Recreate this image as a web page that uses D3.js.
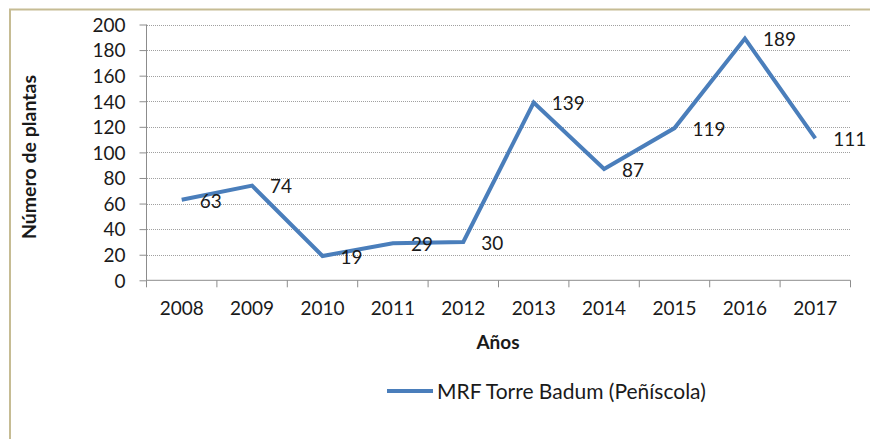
<!DOCTYPE html>
<html>
<head>
<meta charset="utf-8">
<script src="https://cdn.jsdelivr.net/npm/d3@7"></script>
<style>
  body { margin: 0; background: #fff; }
  svg text { font-family: Lato, "Open Sans", sans-serif; fill: #1a1a1a; }
</style>
</head>
<body>
<svg id="chart" width="870" height="439"></svg>
<script>
const years = ['2008', '2009', '2010', '2011', '2012', '2013', '2014', '2015', '2016', '2017'];
const plantas = [63, 74, 19, 29, 30, 139, 87, 119, 189, 111];
const yTicks = [0, 20, 40, 60, 80, 100, 120, 140, 160, 180, 200];
const seriesName = 'MRF Torre Badum (Peñíscola)';
const xTitle = 'Años';
const yTitle = 'Número de plantas';

const LINE_COLOR = '#4a7ebb';
const AXIS_COLOR = '#8c8c8c';

const svg = d3.select('#chart');

// chart border (Excel frame, runs off the right/bottom of the picture)
svg.append('rect')
  .attr('x', 10).attr('y', 9.5)
  .attr('width', 880).attr('height', 460)
  .attr('fill', 'none')
  .attr('stroke', '#c6bc94')
  .attr('stroke-width', 2);

const x = d3.scaleBand().domain(years).range([146.5, 850.5]);
const y = d3.scaleLinear().domain([0, 200]).range([280.3, 24.5]);

// dotted gridlines
svg.append('g')
  .selectAll('line')
  .data(yTicks.filter((t) => t > 0))
  .join('line')
  .attr('x1', 147).attr('x2', 850.5)
  .attr('y1', (d) => Math.round(y(d)) + 0.5)
  .attr('y2', (d) => Math.round(y(d)) + 0.5)
  .attr('stroke', '#a0a0a0')
  .attr('stroke-dasharray', '1,1');

// y axis
const yAxis = svg.append('g')
  .attr('transform', 'translate(146.5,0)')
  .call(d3.axisLeft(y).tickValues(yTicks).tickSize(7).tickPadding(14).tickSizeOuter(0));
yAxis.selectAll('path, line').attr('stroke', AXIS_COLOR);
yAxis.selectAll('text')
  .style('font-size', '19px')
  .attr('dy', '0.36em');
yAxis.select('.domain').attr('d', `M0,${y(200)}V${y(0)}`);

// x axis (labels at centres, ticks at boundaries)
const xAxis = svg.append('g')
  .attr('transform', `translate(0,${y(0)})`)
  .call(d3.axisBottom(x).tickSize(0).tickPadding(0).tickSizeOuter(0));
xAxis.select('.domain').attr('stroke', AXIS_COLOR).attr('d', `M146.5,0H850.5`);
xAxis.selectAll('text')
  .style('font-size', '19px')
  .attr('y', 34.5)
  .attr('dy', 0);
xAxis.append('g')
  .selectAll('line')
  .data(years.concat(['end']))
  .join('line')
  .attr('x1', (d, i) => x.range()[0] + i * x.step())
  .attr('x2', (d, i) => x.range()[0] + i * x.step())
  .attr('y1', 0).attr('y2', 7)
  .attr('stroke', AXIS_COLOR);

// series line
const points = years.map((yr, i) => ({year: yr, value: plantas[i]}));
const line = d3.line()
  .x((d) => x(d.year) + x.bandwidth() / 2)
  .y((d) => y(d.value));

svg.append('path')
  .datum(points)
  .attr('d', line)
  .attr('fill', 'none')
  .attr('stroke', LINE_COLOR)
  .attr('stroke-width', 4)
  .attr('stroke-linejoin', 'miter');

// data labels, right of each point
svg.append('g')
  .selectAll('text')
  .data(points)
  .join('text')
  .attr('x', (d) => x(d.year) + x.bandwidth() / 2 + 18)
  .attr('y', (d) => y(d.value) + 1)
  .attr('dy', '0.36em')
  .style('font-size', '19px')
  .text((d) => d.value);

// axis titles
svg.append('text')
  .attr('x', 498).attr('y', 348.5)
  .attr('text-anchor', 'middle')
  .style('font-size', '19px')
  .style('font-weight', 'bold')
  .text(xTitle);

svg.append('text')
  .attr('transform', 'translate(36,157) rotate(-90)')
  .attr('text-anchor', 'middle')
  .style('font-size', '19.5px')
  .style('font-weight', 'bold')
  .text(yTitle);

// legend
const legend = svg.append('g').attr('transform', 'translate(387,391)');
legend.append('line')
  .attr('x1', 0).attr('x2', 46)
  .attr('stroke', LINE_COLOR)
  .attr('stroke-width', 4);
legend.append('text')
  .attr('x', 50).attr('y', 7.5)
  .style('font-size', '21px')
  .text(seriesName);
</script>
</body>
</html>
